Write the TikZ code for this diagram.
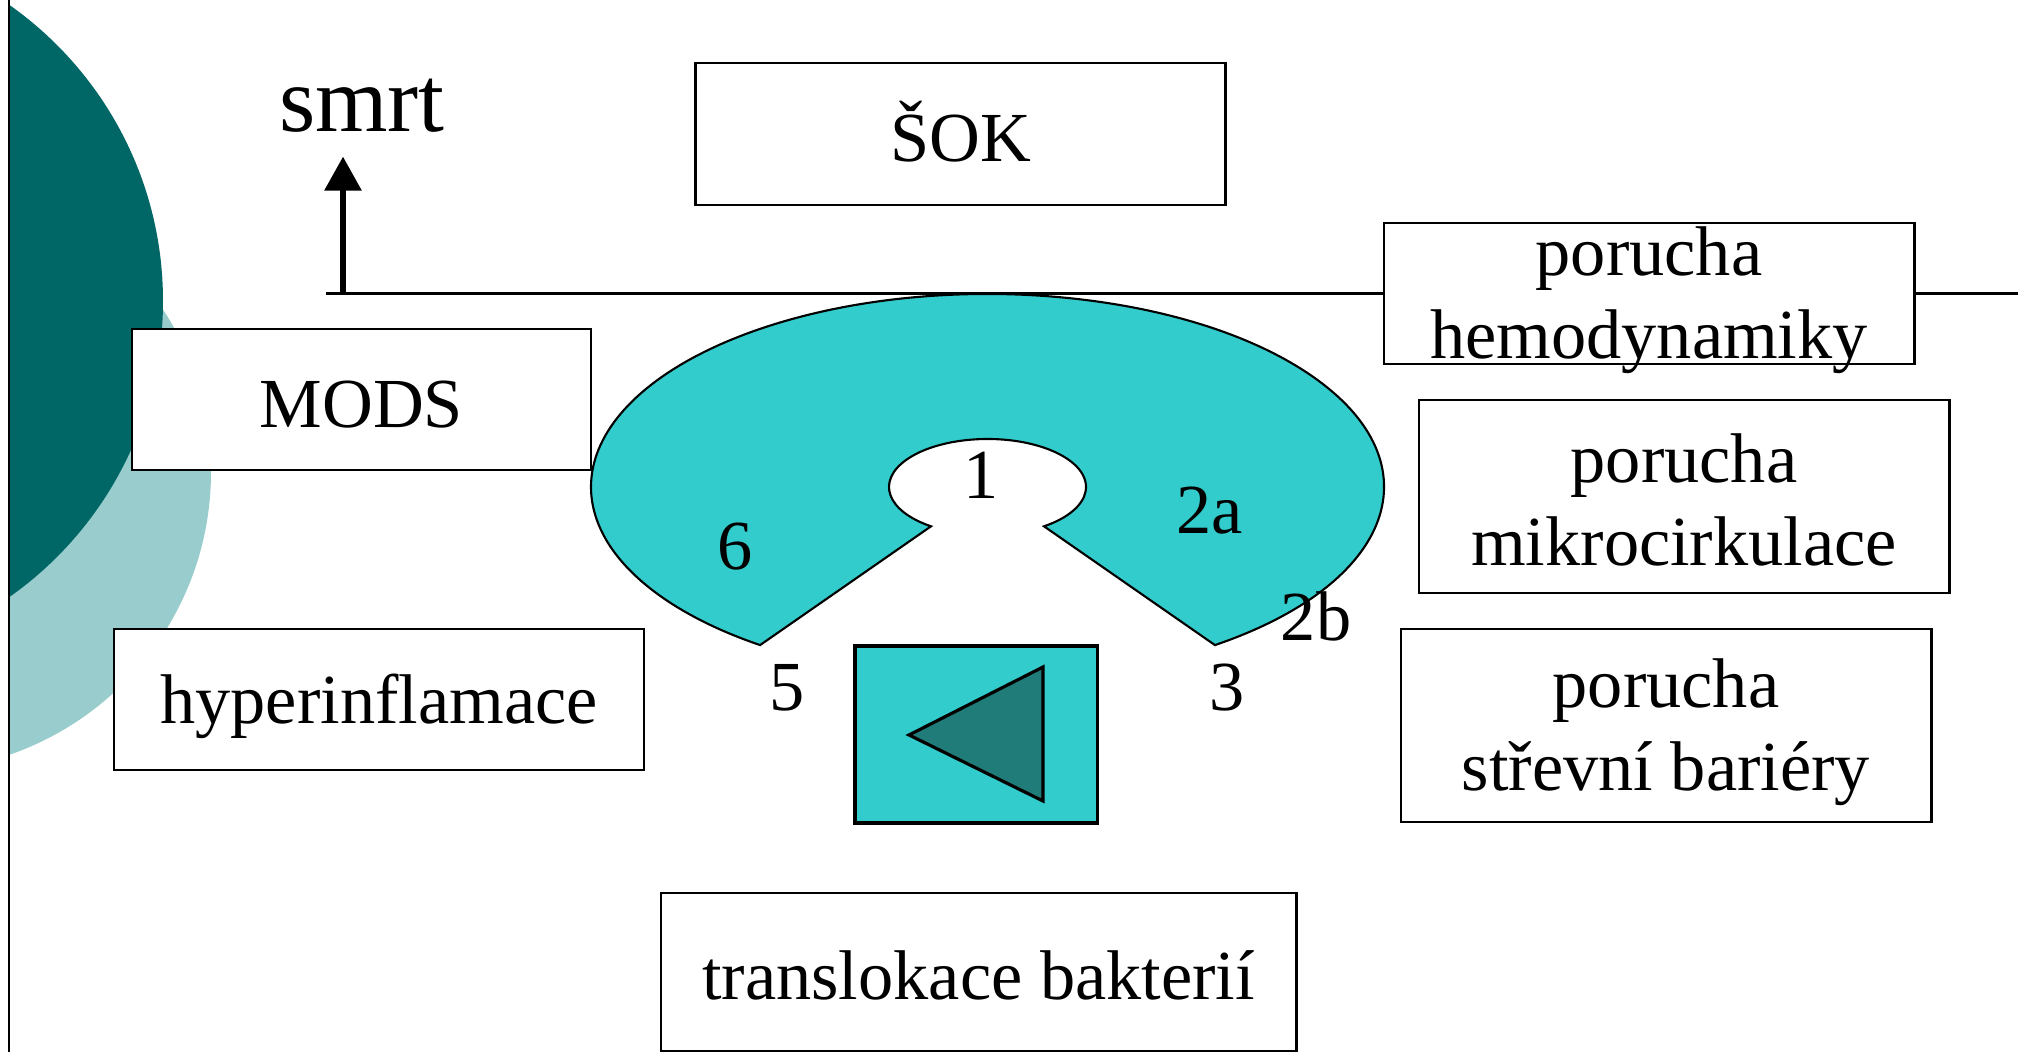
\documentclass[tikz,border=0pt]{standalone}
\usepackage{fontspec}
\setmainfont{Liberation Serif}
\usetikzlibrary{arrows.meta,calc}
\definecolor{seagreen}{HTML}{33CCCC}
\definecolor{deepteal}{HTML}{006666}
\definecolor{paleteal}{HTML}{99CCCC}
\definecolor{wedgeteal}{RGB}{32,124,121}
\newcommand{\boxstrut}{\rule[-0.1em]{0pt}{0.99em}}

\begin{document}
\begin{tikzpicture}[x=0.01cm, y=0.01cm,
  box/.style={draw, line width=0.75pt, fill=white, inner sep=0pt, minimum width=5.3cm, minimum height=1.41cm, align=center, font=\fontsize{20}{23.6}\selectfont},
  lbl/.style={inner sep=0pt, align=center, font=\fontsize{20}{23.6}\selectfont},
  num/.style={lbl, anchor=base}]
\useasboundingbox (0,0) rectangle (2022,1052);

% circles on the left
\begin{scope}
\clip (9.3,0) rectangle (2022,1052);
\fill[paleteal] (-88,580) circle[radius=299];
\fill[deepteal] (-199,751) circle[radius=362];
\end{scope}
\draw[line width=0.6pt] (9.3,0) -- (9.3,1052);

% line and smrt
\coordinate (lineL) at (326,758);
\coordinate (lineR) at (2018,758);
\coordinate (foot) at (343,758);
\draw[line width=0.85pt] (lineL) -- (lineR);
\node[font=\fontsize{26.5}{32}\selectfont, anchor=base, inner sep=0.23cm] (smrt) at (362,920) {smrt};
\draw[line width=1.7pt, -{Triangle[width=0.36cm,length=0.34cm]}] (foot) -- (foot |- smrt.south);

\node[box, minimum height=1.42cm] (sok) at (960.5,918) {\boxstrut ŠOK};
\node[box] (hemo) at (1649,758.5) {};
\node[lbl] (hemotext) at (hemo.center) {\boxstrut porucha\\\boxstrut hemodynamiky};
\node[box, minimum height=1.93cm] (mikro) at (1684,555.5) {\boxstrut porucha\\\boxstrut mikrocirkulace};
\node[box, minimum height=1.93cm] (strevni) at (1666,326.5) {\boxstrut porucha\\\boxstrut střevní bariéry};
\node[box, minimum width=4.59cm] (mods) at (361.5,652.5) {\boxstrut MODS};
\node[box] (hyper) at (379,352.5) {\boxstrut hyperinflamace};
\node[box, minimum width=6.35cm, minimum height=1.58cm] (transl) at (978.5,80) {\boxstrut translokace bakterií};

% horseshoe
\coordinate (hs) at (987.5,565);
\draw[fill=seagreen, line width=0.6pt] ($(hs)+(-55:396.5 and 193)$) arc[start angle=-55, end angle=235, x radius=396.5, y radius=193]
  -- ($(hs)+(235:98.5 and 48)$) arc[start angle=235, end angle=-55, x radius=98.5, y radius=48] -- cycle;
\node[num] (n1) at (981,553) {1};
\node[num] (n2a) at (1210,518) {2a};
\node[num] (n6) at (735,482) {6};
\node[num] (n2b) at (1316,411) {2b};
\node[num] (n5) at (787,341) {5};
\node[num] (n3) at (1227,341) {3};

% button below
\node[draw, fill=seagreen, line width=0.9pt, minimum width=2.42cm, minimum height=1.77cm, inner sep=0pt] (btn) at (976,317.5) {};
\draw[fill=wedgeteal, line width=0.9pt] (909,317) -- (1043,385) -- (1043,251) -- cycle;
\end{tikzpicture}
\end{document}
